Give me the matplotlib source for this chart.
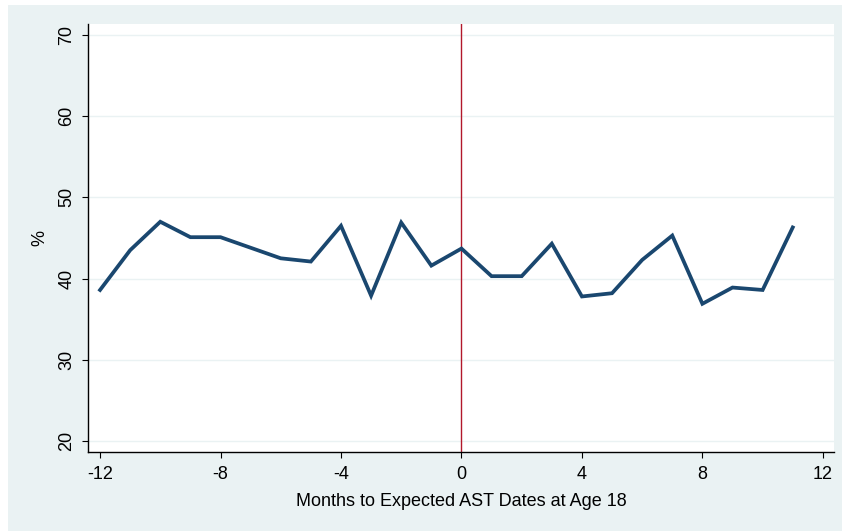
import matplotlib
matplotlib.use("Agg")
import matplotlib.pyplot as plt
from matplotlib.patches import Rectangle

# data
months = [-12, -11, -10, -9, -8, -7, -6, -5, -4, -3, -2, -1,
          0, 1, 2, 3, 4, 5, 6, 7, 8, 9, 10, 11]
pct = [38.6, 43.5, 47.0, 45.1, 45.1, 43.8, 42.5, 42.1, 46.5, 37.9, 46.9, 41.6,
       43.7, 40.3, 40.3, 44.3, 37.8, 38.2, 42.3, 45.3, 36.9, 38.9, 38.6, 46.3]
xticks = [-12, -8, -4, 0, 4, 8, 12]
yticks = [20, 30, 40, 50, 60, 70]

BG = "#eaf2f3"
W, H = 842, 531

plt.rcParams['font.family'] = ['Liberation Sans', 'DejaVu Sans']
plt.rcParams['axes.unicode_minus'] = False

fig = plt.figure(figsize=(W / 100, H / 100), dpi=100)
fig.patch.set_facecolor("white")
# stata style outer panel
bg = Rectangle((8 / W, 0), 1 - 8 / W, 1 - 5 / H,
               transform=fig.transFigure, facecolor=BG,
               edgecolor="none", zorder=-10)
fig.add_artist(bg)

ax = fig.add_axes([88 / W, 1 - 452 / H, (834 - 88) / W, (452 - 24) / H])
ax.set_zorder(1)
ax.set_facecolor("white")

ax.plot(months, pct, color="#1a476f", lw=2.7, solid_joinstyle="miter", zorder=3)
ax.axvline(0, color="#b2182b", lw=1.0, zorder=2)

ax.set_xlim(-12.4, 12.37)
ax.set_ylim(18.65, 71.35)
ax.set_xticks(xticks)
ax.set_yticks(yticks)
ax.grid(axis="y", color=BG, lw=1.0)
ax.set_axisbelow(True)

for s in ["top", "right"]:
    ax.spines[s].set_visible(False)
for s in ["left", "bottom"]:
    ax.spines[s].set_linewidth(1.0)
    ax.spines[s].set_color("black")

ax.tick_params(axis="both", length=4, width=0.8, labelsize=13)
ax.tick_params(axis="x", pad=6)
ax.tick_params(axis="y", pad=5)
for lab in ax.get_yticklabels():
    lab.set_rotation(90)
    lab.set_va("center")

ax.set_xlabel("Months to Expected AST Dates at Age 18", fontsize=13, labelpad=7)
ax.set_ylabel("%", fontsize=13, labelpad=7)

fig.savefig("out.png", dpi=100, facecolor=fig.get_facecolor())
